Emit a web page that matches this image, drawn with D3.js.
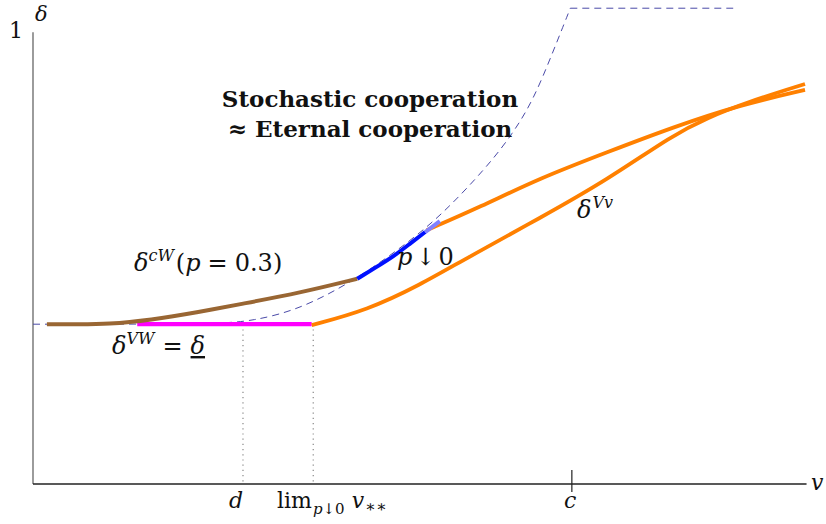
<!DOCTYPE html>
<html><head><meta charset="utf-8">
<script src="https://cdn.jsdelivr.net/npm/d3@7"></script>
<style>
body{margin:0;background:#fff;}
</style></head>
<body><svg id="c" width="826" height="524"></svg>
<script>
// ---- data (v on [0,1], delta on [0,1]) ----
const deltaLow = 0.352;
const brownV = [0.018,0.060,0.096,0.152,0.216,0.268,0.346,0.420];
const brownD = [0.352,0.352,0.352,0.361,0.379,0.396,0.421,0.452];
const blueV = [0.420,0.443,0.466,0.488,0.508];
const blueD = [0.452,0.476,0.500,0.529,0.555];
const lightBlueV = [0.508,0.527];
const lightBlueD = [0.555,0.579];
const magentaV = [0.135,0.361];
const magentaD = [0.352,0.352];
const upperV = [0.510,0.579,0.657,0.744,0.829,0.916,1.0];
const upperD = [0.559,0.610,0.674,0.731,0.786,0.835,0.868];
const lowerV = [0.361,0.433,0.501,0.562,0.657,0.744,0.829,0.873,0.925,1.0];
const lowerD = [0.350,0.383,0.438,0.498,0.586,0.670,0.769,0.806,0.841,0.881];
const dashV = [0.0,0.236,0.285,0.346,0.415,0.475,0.527,0.588,0.622,0.648,0.672,0.696];
const dashD = [0.352,0.352,0.359,0.385,0.447,0.518,0.588,0.698,0.773,0.846,0.945,1.048];
const capV = [0.696,0.907];
const capD = [1.048,1.048];
const dV = 0.272, limV = 0.363, cV = 0.698;

const FONT = "'DejaVu Serif',serif";
const svg = d3.select("#c");
const x = d3.scaleLinear().domain([0,1]).range([33,805]);
const y = d3.scaleLinear().domain([0,1]).range([484,30]);
const zip = (a,b)=>a.map((v,i)=>[v,b[i]]);
const line = d3.line().x(d=>x(d[0])).y(d=>y(d[1]));
const smooth = d3.line().x(d=>x(d[0])).y(d=>y(d[1])).curve(d3.curveBasis);

// axes
svg.append("line").attr("x1",x(0)).attr("x2",x(0)).attr("y1",y(0)).attr("y2",y(0.995))
  .attr("stroke","#666").attr("stroke-width",1.3);
svg.append("line").attr("x1",x(0)).attr("x2",x(1.002)).attr("y1",y(0)).attr("y2",y(0))
  .attr("stroke","#222").attr("stroke-width",1.3);
// tick at c
svg.append("line").attr("x1",x(cV)).attr("x2",x(cV)).attr("y1",y(0)-14).attr("y2",y(0)+8)
  .attr("stroke","#222").attr("stroke-width",1.2);
// dotted verticals
[dV,limV].forEach(v=>{
  svg.append("line").attr("x1",x(v)).attr("x2",x(v)).attr("y1",y(deltaLow)).attr("y2",y(0))
    .attr("stroke","#888").attr("stroke-width",1.2).attr("stroke-dasharray","1.2,4");
});

// dashed envelope
svg.append("path").attr("d",smooth(zip(dashV,dashD))).attr("fill","none")
  .attr("stroke","#4a4aa8").attr("stroke-width",1).attr("stroke-dasharray","7,5");
svg.append("path").attr("d",line(zip(capV,capD))).attr("fill","none")
  .attr("stroke","#4a4aa8").attr("stroke-width",1).attr("stroke-dasharray","7,5");

// curves
svg.append("path").attr("d",line(zip(magentaV,magentaD))).attr("fill","none")
  .attr("stroke","#ff00ff").attr("stroke-width",4.2);
svg.append("path").attr("d",smooth(zip(lowerV,lowerD))).attr("fill","none")
  .attr("stroke","#ff8000").attr("stroke-width",3.8);
svg.append("path").attr("d",smooth(zip(upperV,upperD))).attr("fill","none")
  .attr("stroke","#ff8000").attr("stroke-width",3.8);
svg.append("path").attr("d",smooth(zip(brownV,brownD))).attr("fill","none")
  .attr("stroke","#996633").attr("stroke-width",4).attr("stroke-linecap","butt");
svg.append("path").attr("d",smooth(zip(blueV,blueD))).attr("fill","none")
  .attr("stroke","#0010ff").attr("stroke-width",4);
svg.append("path").attr("d",line(zip(lightBlueV,lightBlueD))).attr("fill","none")
  .attr("stroke","#8080ff").attr("stroke-width",4);

// ---- labels ----
function txt(xp,yp,size){
  return svg.append("text").attr("x",xp).attr("y",yp).attr("font-size",size)
    .attr("font-family",FONT).attr("fill","#111");
}
txt(9,38,22).text("1");
txt(35,21,21).attr("font-style","italic").text("δ");
txt(811,490,22).attr("font-style","italic").text("v");
txt(229,508,22).attr("font-style","italic").text("d");
txt(564,508,22).attr("font-style","italic").text("c");
{
  const t = txt(277,508,22);
  t.append("tspan").text("lim");
  t.append("tspan").attr("font-size",15).attr("font-style","italic").attr("dy",6).attr("dx",1).text("p");
  t.append("tspan").attr("font-size",15).text("↓0");
  t.append("tspan").attr("font-style","italic").attr("dy",-6).attr("dx",7).text("v");
  t.append("tspan").attr("font-size",16).attr("dy",4).attr("dx",1).text("∗∗");
}
{
  const t = txt(134,271,24);
  t.append("tspan").attr("font-style","italic").text("δ");
  t.append("tspan").attr("font-size",16).attr("font-style","italic").attr("dy",-10).text("cW");
  t.append("tspan").attr("dy",10).attr("dx",2).text("(");
  t.append("tspan").attr("font-style","italic").text("p");
  t.append("tspan").attr("dx",7).text("=");
  t.append("tspan").attr("dx",7).text("0.3)");
}
{
  const t = txt(112,354,24);
  t.append("tspan").attr("font-style","italic").text("δ");
  t.append("tspan").attr("font-size",16).attr("font-style","italic").attr("dy",-10).text("VW");
  t.append("tspan").attr("dy",10).attr("dx",8).text("=");
  t.append("tspan").attr("dx",8).attr("font-style","italic").attr("text-decoration","underline").text("δ");
}
{
  const t = txt(397,265,24);
  t.append("tspan").attr("font-style","italic").text("p");
  t.append("tspan").attr("dx",3).text("↓");
  t.append("tspan").attr("dx",3).text("0");
}
{
  const t = txt(577,218,24);
  t.append("tspan").attr("font-style","italic").text("δ");
  t.append("tspan").attr("font-size",16).attr("font-style","italic").attr("dy",-10).attr("dx",1).text("Vv");
}
txt(370,107,23).attr("text-anchor","middle").attr("font-weight","bold").text("Stochastic cooperation");
txt(370,137,23).attr("text-anchor","middle").attr("font-weight","bold").text("≈ Eternal cooperation");
</script></body></html>
